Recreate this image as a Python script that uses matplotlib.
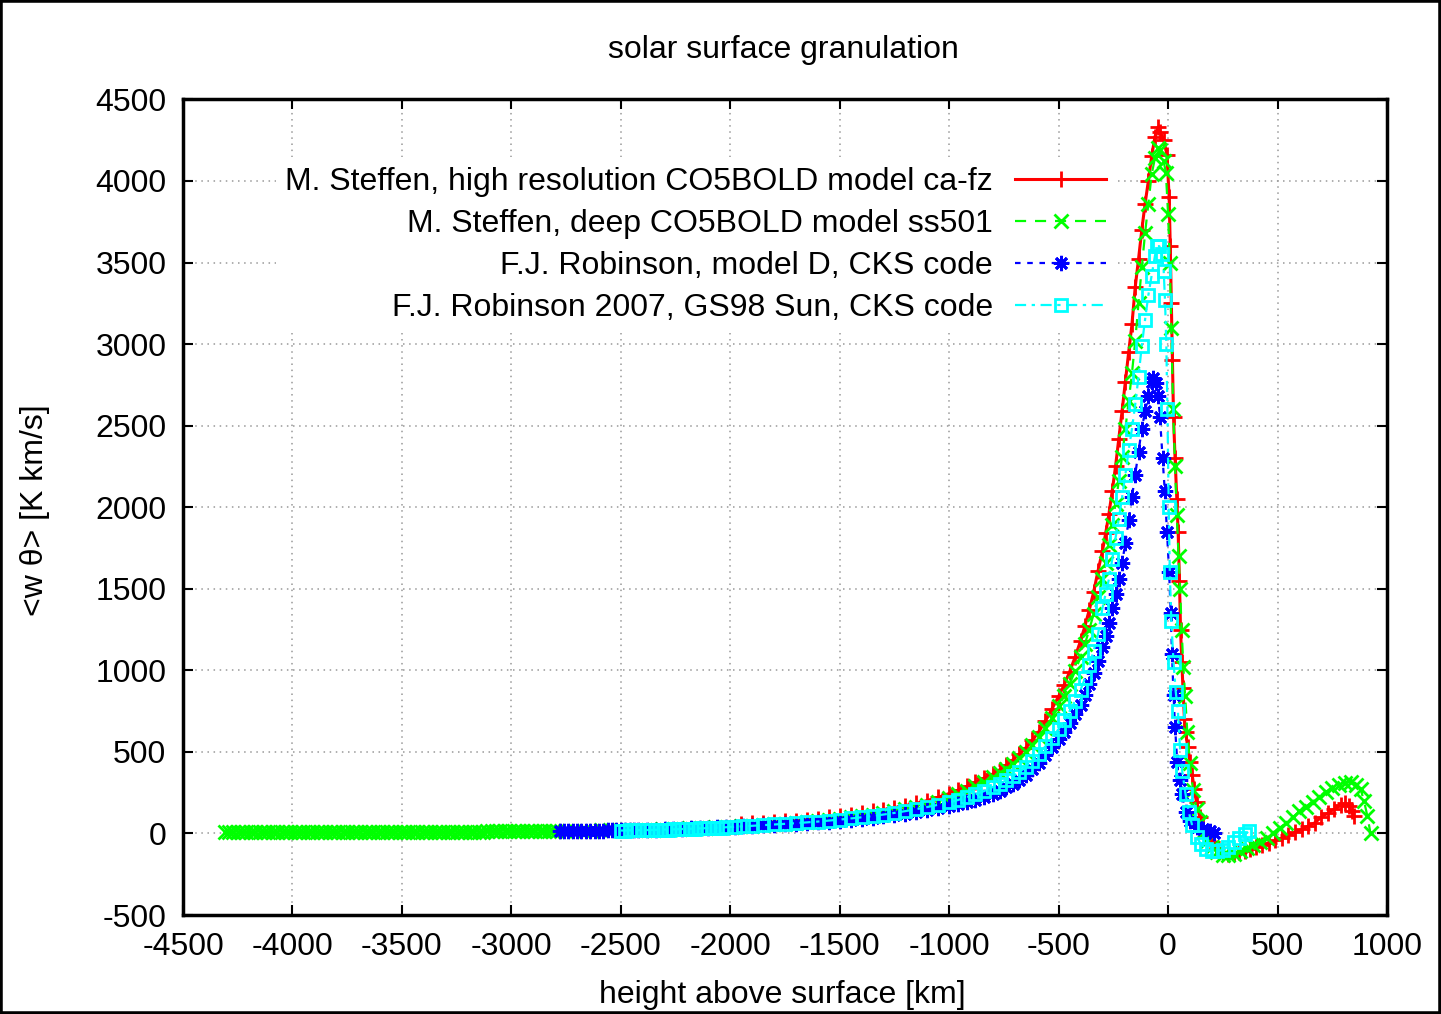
import matplotlib
matplotlib.use('Agg')
import matplotlib.pyplot as plt
from matplotlib.patches import Rectangle

plt.rcParams['font.family'] = ['Liberation Sans', 'DejaVu Sans']
plt.rcParams['axes.unicode_minus'] = False

# ---- data (height [km], <w theta> [K km/s]) ----
label_red = 'M. Steffen, high resolution CO5BOLD model ca-fz'
label_green = 'M. Steffen, deep CO5BOLD model ss501'
label_blue = 'F.J. Robinson, model D, CKS code'
label_cyan = 'F.J. Robinson 2007, GS98 Sun, CKS code'

# M. Steffen ca-fz
red_x = [-1950, -1900, -1850, -1800, -1750, -1700, -1650, -1600, -1550, -1500,
         -1450, -1400, -1350, -1300, -1250, -1200, -1150, -1100, -1050, -1000,
         -960, -920, -880, -840, -800, -770, -740, -710, -680, -650,
         -620, -590, -560, -530, -500, -475, -450, -425, -400, -380,
         -360, -340, -320, -300, -285, -270, -255, -240, -225, -210,
         -195, -180, -165, -150, -135, -120, -105, -90, -75, -60,
         -46, -35, -20, -5, 5, 10, 15, 20, 25, 32,
         40, 46, 52, 57, 63, 68, 75, 80, 90, 100,
         110, 120, 130, 145, 160, 180, 200, 225, 250, 275,
         300, 325, 350, 375, 400, 430, 460, 490, 520, 550,
         580, 610, 640, 670, 700, 730, 760, 790, 810, 825,
         838, 848]
red_y = [58, 62, 66, 70, 74, 79, 85, 91, 99, 108,
         116, 125, 135, 146, 158, 171, 185, 202, 222, 245,
         265, 288, 313, 340, 365, 390, 418, 450, 485, 525,
         570, 625, 690, 765, 840, 910, 990, 1080, 1180, 1270,
         1370, 1480, 1610, 1730, 1840, 1960, 2100, 2250, 2420, 2590,
         2770, 2950, 3120, 3350, 3520, 3700, 3860, 4000, 4150, 4270,
         4330, 4300, 4250, 4160, 3900, 3600, 3250, 2900, 2550, 2300,
         2050, 1850, 1550, 1250, 1050, 890, 700, 620, 530, 440,
         360, 270, 190, 100, 40, -10, -50, -90, -115, -125,
         -122, -115, -105, -95, -85, -72, -58, -42, -28, -10,
         8, 25, 45, 65, 100, 125, 150, 172, 185, 170,
         135, 110]

# M. Steffen ss501
green_x = [-4310, -4290, -4270, -4250, -4230, -4210, -4190, -4170, -4150, -4130,
           -4110, -4090, -4070, -4050, -4030, -4010, -3990, -3970, -3950, -3930,
           -3910, -3890, -3870, -3850, -3830, -3810, -3790, -3770, -3750, -3730,
           -3710, -3690, -3670, -3650, -3630, -3610, -3590, -3570, -3550, -3530,
           -3510, -3490, -3470, -3450, -3430, -3410, -3390, -3370, -3350, -3330,
           -3310, -3290, -3270, -3250, -3230, -3210, -3190, -3170, -3150, -3130,
           -3110, -3090, -3070, -3050, -3030, -3010, -2990, -2970, -2950, -2930,
           -2910, -2890, -2870, -2850, -2830, -2810, -2790,
           -2750, -2710, -2670, -2630, -2590, -2550, -2510, -2470, -2430, -2390,
           -2350, -2310, -2270, -2230, -2190, -2150, -2110, -2070, -2030, -1990,
           -1950, -1900, -1850, -1800, -1750, -1700, -1650, -1600, -1550, -1500,
           -1450, -1400, -1350, -1300, -1250, -1200, -1150, -1100, -1050, -1000,
           -960, -920, -880, -840, -800, -770, -740, -710, -680, -650,
           -620, -590, -560, -530, -500, -475, -450, -425, -400, -380,
           -360, -340, -320, -300, -285, -270, -255, -240, -225, -210,
           -195, -180, -165, -150, -135, -120, -105, -90, -75, -60,
           -46, -35, -20, -10, 0, 8, 15, 23, 32, 40,
           48, 55, 62, 70, 78, 88, 100, 114, 130, 145,
           160, 180, 200, 225, 250, 275, 300, 330, 360, 390,
           420, 450, 480, 510, 540, 570, 600, 630, 660, 690,
           720, 750, 780, 810, 835, 860, 880, 895, 910, 925]
green_y = [8, 8, 8, 8, 8, 8, 8, 8, 8, 8,
           8, 8, 8, 8, 9, 9, 9, 9, 9, 9,
           9, 9, 9, 9, 9, 9, 9, 9, 9, 10,
           10, 10, 10, 10, 10, 10, 10, 10, 10, 10,
           10, 10, 10, 11, 11, 11, 11, 11, 11, 11,
           11, 11, 12, 12, 12, 12, 12, 12, 12, 12,
           13, 13, 13, 13, 13, 14, 14, 14, 14, 15,
           15, 15, 15, 16, 16, 16, 16,
           17, 17, 18, 18, 19, 19, 20, 21, 22, 23,
           24, 26, 27, 29, 31, 33, 35, 37, 39, 42,
           45, 48, 52, 56, 60, 65, 70, 76, 83, 90,
           98, 106, 115, 125, 136, 148, 161, 176, 195, 215,
           240, 263, 288, 315, 345, 370, 398, 428, 462, 500,
           540, 590, 645, 710, 780, 845, 915, 995, 1080, 1160,
           1250, 1345, 1450, 1560, 1660, 1770, 1890, 2020, 2160, 2310,
           2480, 2650, 2820, 3020, 3250, 3470, 3680, 3860, 4040, 4140,
           4200, 4190, 4120, 4050, 3800, 3500, 3100, 2600, 2250, 1950,
           1700, 1500, 1250, 1020, 840, 620, 430, 265, 150, 70,
           10, -45, -85, -115, -130, -132, -125, -110, -92, -72,
           -50, -25, 5, 35, 65, 100, 135, 165, 195, 225,
           255, 280, 300, 312, 313, 295, 270, 200, 110, 0]

# F.J. Robinson model D
blue_x = [-2780, -2760, -2740, -2720, -2700, -2680, -2660, -2640, -2620, -2600,
          -2580, -2560, -2540, -2520, -2500, -2480, -2460, -2440, -2420,
          -2380, -2340, -2300, -2260, -2220, -2180, -2140, -2100, -2060, -2020,
          -1980, -1940, -1900, -1850, -1800, -1750, -1700, -1650, -1600, -1550,
          -1500, -1450, -1400, -1350, -1300, -1250, -1200, -1150, -1100, -1050,
          -1000,
          -960, -920, -880, -840, -800, -770, -740, -710, -680, -650,
          -620, -590, -560, -530, -500, -475, -450, -425, -400, -380,
          -360, -340, -320, -300, -285, -270, -255, -240, -225, -210,
          -195, -180, -165, -150, -135, -120, -105, -90, -75, -68,
          -55, -45, -37, -25, -15, -5, 5, 12, 18, 25,
          32, 42, 55, 65, 80, 100, 130, 160, 190, 210]
blue_y = [15, 15, 16, 16, 16, 17, 17, 17, 18, 18,
          18, 19, 19, 20, 20, 21, 21, 22, 22,
          23, 24, 26, 27, 29, 31, 33, 35, 37, 40,
          42, 44, 47, 50, 53, 56, 60, 64, 68, 73,
          78, 84, 90, 97, 105, 113, 122, 132, 143, 155,
          168,
          180, 193, 208, 225, 245, 262, 282, 305, 330, 360,
          395, 435, 480, 530, 580, 625, 675, 730, 790, 850,
          915, 985, 1060, 1140, 1210, 1290, 1380, 1470, 1560, 1660,
          1780, 1920, 2060, 2200, 2340, 2480, 2590, 2680, 2770, 2790,
          2760, 2680, 2550, 2300, 2100, 1850, 1600, 1350, 1100, 850,
          650, 440, 330, 240, 130, 75, 38, 25, 18, 5]

# F.J. Robinson 2007, GS98 Sun
cyan_x = [-2500, -2480, -2460, -2440, -2420, -2400, -2380, -2360, -2340, -2320,
          -2300, -2280, -2260, -2240, -2220, -2200, -2180, -2160, -2140, -2120,
          -2100, -2080, -2060, -2040, -2020,
          -1980, -1940, -1900, -1850, -1800, -1750, -1700, -1650, -1600, -1550,
          -1500, -1450, -1400, -1350, -1300, -1250, -1200, -1150, -1100, -1050,
          -1000,
          -960, -920, -880, -840, -800, -770, -740, -710, -680, -650,
          -620, -590, -560, -530, -500, -475, -450, -425, -400, -380,
          -360, -340, -320, -300, -285, -270, -255, -240, -225, -210,
          -195, -180, -165, -150, -135, -120, -105, -90, -75, -60,
          -50, -40, -28, -20, -14, -8, -3, 3, 8, 15,
          25, 35, 45, 55, 65, 80, 95, 110, 130, 150,
          175, 200, 225, 250, 275, 300, 325, 350, 372]
cyan_y = [18, 18, 19, 19, 20, 20, 21, 21, 22, 23,
          24, 24, 25, 26, 27, 28, 29, 30, 31, 32,
          33, 34, 35, 36, 38,
          41, 44, 47, 51, 55, 59, 63, 68, 73, 79,
          85, 92, 99, 107, 116, 126, 137, 149, 162, 176,
          190,
          205, 222, 240, 260, 285, 305, 325, 350, 375, 410,
          445, 490, 535, 585, 640, 695, 750, 810, 880, 950,
          1030, 1120, 1220, 1380, 1470, 1560, 1680, 1810, 1930, 2060,
          2200, 2350, 2480, 2630, 2800, 2990, 3150, 3300, 3420, 3540,
          3600, 3600, 3550, 3450, 3270, 3000, 2600, 2000, 1600, 1300,
          1050, 870, 750, 510, 380, 240, 130, 50, -20, -65,
          -95, -110, -110, -100, -80, -55, -30, -5, 15]

x_ticks = [-4500, -4000, -3500, -3000, -2500, -2000, -1500, -1000, -500, 0, 500, 1000]
y_ticks = [-500, 0, 500, 1000, 1500, 2000, 2500, 3000, 3500, 4000, 4500]

# ---- plot ----
fig = plt.figure(figsize=(14.41, 10.14), dpi=100)
ax = fig.add_axes([0.127, 0.0976, 0.8355, 0.8044])

ax.plot(red_x, red_y, color='#ff0000', lw=2.2, ls='-', marker='+', ms=11, mew=2.0,
        label=label_red)
ax.plot(green_x, green_y, color='#00ff00', lw=1.6, ls=(0, (5, 4)), marker='x', ms=9.5,
        mew=2.0, label=label_green)
ax.plot(blue_x, blue_y, color='#0000ff', lw=1.6, ls=(0, (2.5, 3)), marker=(8, 2, 0),
        ms=11, mew=2.0, label=label_blue)
ax.plot(cyan_x, cyan_y, color='#00ffff', lw=1.6, ls=(0, (5, 2.5, 1.5, 2.5)), marker='s',
        ms=9, mew=2.0, mfc='none', label=label_cyan)

ax.set_xlim(-4500, 1000)
ax.set_ylim(-500, 4500)
ax.set_xticks(x_ticks)
ax.set_yticks(y_ticks)
ax.tick_params(direction='in', length=7, width=1.5, top=True, right=True,
               labelsize=23, pad=12)
for s in ax.spines.values():
    s.set_linewidth(2.5)
ax.grid(True, color='#999999', lw=1.1, ls=(0, (1, 3)))

leg = ax.legend(loc='upper right', bbox_to_anchor=(0.775, 0.929), markerfirst=False,
                fontsize=23, handlelength=2.85, handletextpad=0.7, labelspacing=0.38,
                borderpad=0.3, borderaxespad=0, frameon=True, fancybox=False,
                facecolor='white', edgecolor='none', framealpha=1.0, numpoints=1)

fig.text(0.544, 0.951, 'solar surface granulation', ha='center', va='center', fontsize=23)
fig.text(0.543, 0.019, 'height above surface [km]', ha='center', va='center', fontsize=23)
fig.text(0.024, 0.497, '<w θ> [K km/s]', ha='center', va='center', rotation=90,
         fontsize=23)

fig.patches.append(Rectangle((0, 0), 1, 1, transform=fig.transFigure, fill=False,
                             lw=4, ec='black'))

fig.savefig('out.png', dpi=100)
